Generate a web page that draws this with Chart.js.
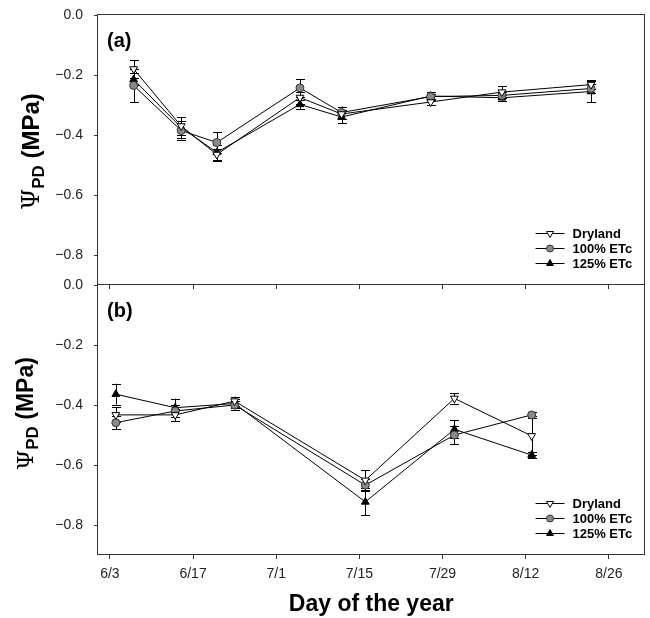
<!DOCTYPE html>
<html>
<head>
<meta charset="utf-8">
<title>Predawn leaf water potential</title>
<script src="https://cdn.jsdelivr.net/npm/chart.js@4.4.1/dist/chart.umd.min.js"></script>
<style>
  html, body { margin: 0; padding: 0; background: #fff; }
  #wrap { position: relative; width: 650px; height: 618px; }
  #wrap canvas { position: absolute; left: 0; }
  #chartA { top: 0; }
  #chartB { top: 270px; }
</style>
</head>
<body>
<div id="wrap">
  <canvas id="chartA" width="650" height="300"></canvas>
  <canvas id="chartB" width="650" height="348"></canvas>
</div>
<script>
// day of year, 6/1 = 152
const seriesNames = ["Dryland", "100% ETc", "125% ETc"];
const xTickDays = [154, 168, 182, 196, 210, 224, 238];
const xTickLabels = ["6/3", "6/17", "7/1", "7/15", "7/29", "8/12", "8/26"];
const yTicks = [0, -0.2, -0.4, -0.6, -0.8];

// panel (a)
const daysA = [158, 166, 172, 186, 193, 208, 220, 235];
const drylandA = [-0.18, -0.37, -0.465, -0.275, -0.33, -0.29, -0.257, -0.232];
const etc100A = [-0.235, -0.385, -0.425, -0.243, -0.325, -0.272, -0.268, -0.245];
const etc125A = [-0.215, -0.375, -0.458, -0.298, -0.34, -0.27, -0.276, -0.255];
const drylandErrA = [0.03, 0.03, 0.02, 0.02, 0.015, 0.01, 0.02, 0.015];
const etc100ErrA = [0.055, 0.03, 0.035, 0.03, 0.02, 0.01, 0.01, 0.015];
const etc125ErrA = [0.02, 0.035, 0.025, 0.015, 0.02, 0.012, 0.01, 0.035];

// panel (b)
const daysB = [155, 165, 175, 197, 212, 225];
const drylandB = [-0.433, -0.433, -0.387, -0.651, -0.378, -0.503];
const etc100B = [-0.459, -0.42, -0.4, -0.667, -0.5, -0.433];
const etc125B = [-0.364, -0.409, -0.395, -0.723, -0.481, -0.567];
const drylandErrB = [0.025, 0.02, 0.015, 0.033, 0.017, 0.065];
const etc100ErrB = [0.022, 0.02, 0.015, 0.02, 0.03, 0.01];
const etc125ErrB = [0.035, 0.03, 0.015, 0.045, 0.03, 0.01];

const SANS = '"Liberation Sans", Arial, Helvetica, sans-serif';

const markers = [
  { pointStyle: "triangle", rotation: 180, fill: "#ffffff", stroke: "#000000", radius: 4.5 },
  { pointStyle: "circle", rotation: 0, fill: "#8a8a8a", stroke: "#333333", radius: 4 },
  { pointStyle: "triangle", rotation: 0, fill: "#000000", stroke: "#000000", radius: 4.5 },
];

function makeDatasets(days, seriesVals, seriesErrs) {
  return seriesVals.map((vals, i) => ({
    label: seriesNames[i],
    data: days.map((d, j) => ({ x: d, y: vals[j] })),
    errors: seriesErrs[i],
    borderColor: "#000",
    borderWidth: 1,
    tension: 0,
    pointStyle: markers[i].pointStyle,
    pointRotation: markers[i].rotation,
    pointRadius: markers[i].radius,
    pointBackgroundColor: markers[i].fill,
    pointBorderColor: markers[i].stroke,
    pointBorderWidth: 1,
  }));
}

const errorBars = {
  id: "errorBars",
  beforeDatasetsDraw(chart) {
    const { ctx } = chart;
    const ys = chart.scales.y;
    ctx.save();
    ctx.strokeStyle = "#000";
    ctx.lineWidth = 1;
    chart.data.datasets.forEach((ds, i) => {
      chart.getDatasetMeta(i).data.forEach((pt, j) => {
        const v = ds.data[j].y, e = ds.errors[j];
        const top = ys.getPixelForValue(v + e);
        const bot = ys.getPixelForValue(v - e);
        const px = Math.round(pt.x) + 0.5;
        ctx.beginPath();
        ctx.moveTo(px, top); ctx.lineTo(px, bot);
        ctx.moveTo(px - 4.5, Math.round(top) + 0.5); ctx.lineTo(px + 4.5, Math.round(top) + 0.5);
        ctx.moveTo(px - 4.5, Math.round(bot) + 0.5); ctx.lineTo(px + 4.5, Math.round(bot) + 0.5);
        ctx.stroke();
      });
    });
    ctx.restore();
  },
};

const frame = {
  id: "frame",
  afterDraw(chart) {
    const { ctx, chartArea: a } = chart;
    ctx.save();
    ctx.strokeStyle = "#333";
    ctx.lineWidth = 1;
    ctx.strokeRect(Math.round(a.left) - 0.5, Math.round(a.top) - 0.5,
      Math.round(a.right - a.left), Math.round(a.bottom - a.top));
    ctx.restore();
  },
};

const panelDecor = {
  id: "panelDecor",
  afterDraw(chart, args, opts) {
    const { ctx, chartArea: a } = chart;
    ctx.save();
    // panel letter
    ctx.fillStyle = "#000";
    ctx.font = "bold 20px " + SANS;
    ctx.textBaseline = "middle";
    ctx.textAlign = "left";
    ctx.fillText(opts.letter, a.left + 9, a.top + 26);

    // legend
    const lx = a.right - 109;
    chart.data.datasets.forEach((ds, i) => {
      const y = a.top + 218 + i * 15;
      ctx.strokeStyle = "#000";
      ctx.lineWidth = 1;
      ctx.beginPath();
      ctx.moveTo(lx, y + 0.5);
      ctx.lineTo(lx + 29, y + 0.5);
      ctx.stroke();
      ctx.fillStyle = ds.pointBackgroundColor;
      ctx.strokeStyle = ds.pointBorderColor;
      Chart.helpers.drawPoint(ctx, {
        pointStyle: ds.pointStyle, rotation: ds.pointRotation,
        radius: ds.pointRadius - 0.5, borderWidth: 1,
      }, lx + 14.5, y + 0.5);
      ctx.fillStyle = "#000";
      ctx.font = "bold 13px " + SANS;
      ctx.fillText(ds.label, lx + 37, y + 1);
    });

    // y title: Psi with PD subscript
    const size = opts.titleSize;
    const psiFont = (size) + 'px "DejaVu Serif", "Liberation Serif", serif';
    const subFont = "bold " + Math.round(size * 0.72) + "px " + SANS;
    const mainFont = "bold " + size + "px " + SANS;
    ctx.font = psiFont; const w1 = ctx.measureText("\u03A8").width;
    ctx.font = subFont; const w2 = ctx.measureText("PD").width;
    ctx.font = mainFont; const w3 = ctx.measureText(" (MPa)").width;
    const total = w1 + w2 + w3;
    const cy = (a.top + a.bottom) / 2 + opts.titleShift;
    ctx.translate(opts.titleX, cy);
    ctx.rotate(-Math.PI / 2);
    ctx.textBaseline = "alphabetic";
    let x = -total / 2;
    ctx.font = psiFont; ctx.fillText("\u03A8", x, 0); x += w1;
    ctx.font = subFont; ctx.fillText("PD", x, size * 0.22); x += w2;
    ctx.font = mainFont; ctx.fillText(" (MPa)", x, 0);
    ctx.restore();
  },
};

function yScale() {
  return {
    type: "linear",
    min: -0.9,
    max: 0,
    afterBuildTicks: (s) => { s.ticks = yTicks.map((v) => ({ value: v })); },
    afterFit: (s) => { s.width = 98; s.paddingTop = 0; s.paddingBottom = 0; },
    border: { display: false },
    grid: { drawOnChartArea: false, drawTicks: true, tickLength: 4, tickColor: "#333", tickWidth: 1 },
    ticks: {
      color: "#222",
      padding: 11,
      font: { family: SANS, size: 14 },
      callback: (v) => (v === 0 ? "0.0" : "\u2212" + Math.abs(v).toFixed(1)),
    },
  };
}

function xScale(showLabels, height) {
  return {
    type: "linear",
    min: 152,
    max: 244,
    afterBuildTicks: (s) => { s.ticks = xTickDays.map((v) => ({ value: v })); },
    afterFit: (s) => { s.height = height; s.paddingLeft = 0; s.paddingRight = 0; },
    border: { display: false },
    grid: { drawOnChartArea: false, drawTicks: true, tickLength: 4, tickColor: "#333", tickWidth: 1 },
    ticks: {
      display: showLabels,
      autoSkip: false,
      maxRotation: 0,
      color: "#222",
      padding: 7,
      font: { family: SANS, size: 14 },
      callback: (v) => xTickLabels[xTickDays.indexOf(v)],
    },
    title: {
      display: showLabels,
      text: "Day of the year",
      color: "#000",
      padding: { top: 0, bottom: 0 },
      font: { family: SANS, size: 23, weight: "bold" },
    },
  };
}

function makeChart(id, days, vals, errs, letter, xHeight, titleX, titleSize, titleShift, showX) {
  return new Chart(document.getElementById(id), {
    type: "line",
    data: { datasets: makeDatasets(days, vals, errs) },
    plugins: [errorBars, frame, panelDecor],
    options: {
      responsive: false,
      animation: false,
      layout: { padding: { left: 0, right: 3, top: 15, bottom: 0 } },
      scales: { x: xScale(showX, xHeight), y: yScale() },
      plugins: {
        legend: { display: false },
        tooltip: { enabled: false },
        panelDecor: { letter, titleX, titleSize, titleShift },
      },
    },
  });
}

makeChart("chartA", daysA, [drylandA, etc100A, etc125A], [drylandErrA, etc100ErrA, etc125ErrA],
  "(a)", 15, 39, 24, 1.5, false);
makeChart("chartB", daysB, [drylandB, etc100B, etc125B], [drylandErrB, etc100ErrB, etc125ErrB],
  "(b)", 63, 33, 23, -6.5, true);
</script>
</body>
</html>
